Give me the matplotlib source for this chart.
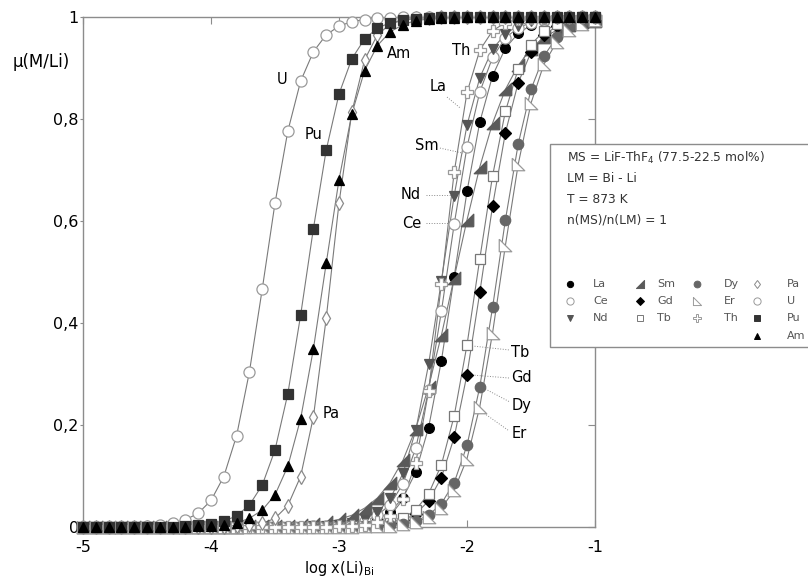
import numpy as np
import matplotlib
matplotlib.use("Agg")
import matplotlib.pyplot as plt
from matplotlib.lines import Line2D
from matplotlib.patches import Rectangle
from matplotlib.ticker import FuncFormatter

plt.rcParams['font.family'] = ['DejaVu Sans']

# log x(Li)_Bi sampling points
log_x = [-5.0, -4.9, -4.8, -4.7, -4.6, -4.5, -4.4, -4.3, -4.2, -4.1,
         -4.0, -3.9, -3.8, -3.7, -3.6, -3.5, -3.4, -3.3, -3.2, -3.1,
         -3.0, -2.9, -2.8, -2.7, -2.6, -2.5, -2.4, -2.3, -2.2, -2.1,
         -2.0, -1.9, -1.8, -1.7, -1.6, -1.5, -1.4, -1.3, -1.2, -1.1, -1.0]

# mu(M/Li) for each element
U = [0, 0, 0, 0, 0, 0.002, 0.003, 0.007, 0.014, 0.027,
     0.052, 0.099, 0.179, 0.304, 0.466, 0.635, 0.776, 0.874, 0.932, 0.965,
     0.982, 0.991, 0.995, 0.998, 0.999, 1, 1, 1, 1, 1,
     1, 1, 1, 1, 1, 1, 1, 1, 1, 1, 1]
Pu = [0, 0, 0, 0, 0, 0, 0, 0, 0.001, 0.003,
      0.006, 0.011, 0.022, 0.043, 0.082, 0.151, 0.261, 0.415, 0.585, 0.739,
      0.849, 0.918, 0.957, 0.978, 0.989, 0.994, 0.997, 0.999, 1, 1,
      1, 1, 1, 1, 1, 1, 1, 1, 1, 1, 1]
Am = [0, 0, 0, 0, 0, 0, 0, 0, 0, 0.001,
      0.002, 0.004, 0.008, 0.017, 0.033, 0.063, 0.119, 0.212, 0.349, 0.517,
      0.681, 0.810, 0.895, 0.944, 0.971, 0.985, 0.993, 0.996, 0.998, 0.999,
      1, 1, 1, 1, 1, 1, 1, 1, 1, 1, 1]
Pa = [0, 0, 0, 0, 0, 0, 0, 0, 0, 0,
      0, 0, 0.001, 0.003, 0.007, 0.017, 0.042, 0.099, 0.216, 0.409,
      0.635, 0.813, 0.916, 0.965, 0.986, 0.994, 0.998, 0.999, 1, 1,
      1, 1, 1, 1, 1, 1, 1, 1, 1, 1, 1]
Th = [0, 0, 0, 0, 0, 0, 0, 0, 0, 0,
      0, 0, 0, 0, 0, 0, 0, 0, 0, 0,
      0.001, 0.001, 0.004, 0.009, 0.022, 0.054, 0.126, 0.267, 0.477, 0.696,
      0.852, 0.935, 0.973, 0.989, 0.996, 0.998, 0.999, 1, 1, 1, 1]
La = [0, 0, 0, 0, 0, 0, 0, 0, 0, 0,
      0, 0, 0, 0, 0, 0, 0, 0, 0, 0.001,
      0.002, 0.004, 0.008, 0.015, 0.030, 0.057, 0.108, 0.195, 0.326, 0.491,
      0.658, 0.794, 0.885, 0.939, 0.968, 0.984, 0.992, 0.996, 0.998, 0.999, 1]
Ce = [0, 0, 0, 0, 0, 0, 0, 0, 0, 0,
      0, 0, 0, 0, 0, 0, 0, 0, 0.001, 0.002,
      0.003, 0.006, 0.011, 0.023, 0.044, 0.085, 0.155, 0.268, 0.423, 0.594,
      0.745, 0.853, 0.921, 0.959, 0.979, 0.989, 0.995, 0.997, 0.999, 1, 1]
Nd = [0, 0, 0, 0, 0, 0, 0, 0, 0, 0,
      0, 0, 0, 0, 0, 0, 0, 0, 0.001, 0.002,
      0.004, 0.007, 0.015, 0.029, 0.056, 0.105, 0.190, 0.319, 0.483, 0.650,
      0.788, 0.881, 0.937, 0.967, 0.983, 0.992, 0.996, 0.998, 0.999, 1, 1]
Sm = [0, 0, 0, 0, 0, 0, 0, 0, 0, 0,
      0, 0, 0, 0.001, 0.001, 0.002, 0.002, 0.004, 0.006, 0.009,
      0.015, 0.023, 0.037, 0.057, 0.087, 0.131, 0.193, 0.275, 0.376, 0.489,
      0.602, 0.706, 0.792, 0.858, 0.905, 0.938, 0.960, 0.974, 0.984, 0.990, 0.993]
Gd = [0, 0, 0, 0, 0, 0, 0, 0, 0, 0,
      0, 0, 0, 0, 0, 0, 0, 0, 0, 0,
      0, 0.001, 0.002, 0.003, 0.007, 0.013, 0.026, 0.051, 0.097, 0.176,
      0.299, 0.460, 0.630, 0.773, 0.871, 0.931, 0.964, 0.982, 0.991, 0.995, 0.998]
Tb = [0, 0, 0, 0, 0, 0, 0, 0, 0, 0,
      0, 0, 0, 0, 0, 0, 0, 0, 0, 0,
      0, 0.001, 0.002, 0.004, 0.009, 0.017, 0.034, 0.065, 0.122, 0.218,
      0.357, 0.526, 0.689, 0.815, 0.898, 0.946, 0.972, 0.986, 0.993, 0.996, 0.998]
Dy = [0, 0, 0, 0, 0, 0, 0, 0, 0, 0,
      0, 0, 0, 0, 0, 0, 0, 0, 0, 0,
      0, 0, 0.001, 0.002, 0.003, 0.006, 0.012, 0.023, 0.046, 0.087,
      0.160, 0.275, 0.431, 0.602, 0.751, 0.858, 0.923, 0.960, 0.980, 0.990, 0.995]
Er = [0, 0, 0, 0, 0, 0, 0, 0, 0, 0,
      0, 0, 0, 0, 0, 0, 0, 0, 0, 0,
      0, 0, 0.001, 0.001, 0.002, 0.005, 0.010, 0.019, 0.037, 0.072,
      0.134, 0.236, 0.381, 0.552, 0.711, 0.831, 0.907, 0.951, 0.975, 0.987, 0.994]

x_ticks = [-5, -4, -3, -2, -1]
y_ticks = [0, 0.2, 0.4, 0.6, 0.8, 1]

# right-angle triangle markers
tri_sm = [(1, -1), (1, 1), (-1, -1), (1, -1)]
tri_er = [(-1, 1), (-1, -1), (1, -1), (-1, 1)]

# name: (data, marker, face, edge, size)
styles = {
    'La': (La, 'o', 'black', 'black', 7),
    'Ce': (Ce, 'o', 'white', '#9a9a9a', 8),
    'Nd': (Nd, 'v', '#555555', '#555555', 7),
    'Sm': (Sm, tri_sm, '#5a5a5a', '#5a5a5a', 9),
    'Gd': (Gd, 'D', 'black', 'black', 6.5),
    'Tb': (Tb, 's', 'white', '#777777', 7.5),
    'Dy': (Dy, 'o', '#666666', '#666666', 7.5),
    'Er': (Er, tri_er, 'white', '#9a9a9a', 9),
    'Th': (Th, 'P', 'white', '#9a9a9a', 9),
    'Pa': (Pa, 'd', 'white', '#8a8a8a', 7),
    'U': (U, 'o', 'white', '#9a9a9a', 8),
    'Pu': (Pu, 's', '#333333', '#333333', 7.5),
    'Am': (Am, '^', 'black', 'black', 7),
}

W, H = 808, 586
fig = plt.figure(figsize=(W / 100, H / 100), dpi=100)
ax = fig.add_axes([83 / W, 1 - 527 / H, 512 / W, 510 / H])

def px(x, y):
    # pixel position -> figure fraction
    return x / W, 1 - y / H

for name, (vals, mk, fc, ec, ms) in styles.items():
    ax.plot(log_x, vals, color='#7a7a7a', lw=0.8, zorder=2)
for name, (vals, mk, fc, ec, ms) in styles.items():
    ax.plot(log_x, vals, linestyle='none', marker=mk, markerfacecolor=fc,
            markeredgecolor=ec, markersize=ms, markeredgewidth=0.9,
            clip_on=False, zorder=3)

ax.set_xlim(-5, -1)
ax.set_ylim(0, 1)
ax.set_xticks(x_ticks)
ax.set_yticks(y_ticks)
ax.yaxis.set_major_formatter(FuncFormatter(lambda v, p: ('%g' % v).replace('.', ',')))
ax.xaxis.set_major_formatter(FuncFormatter(lambda v, p: '%d' % v))
for s in ax.spines.values():
    s.set_color('#8c8c8c')
    s.set_linewidth(1)
ax.tick_params(axis='both', colors='#8c8c8c', labelcolor='black', labelsize=11.5)
ax.tick_params(axis='x', direction='in', top=True, length=5, pad=9)
ax.tick_params(axis='y', direction='out', length=2, pad=1)
ax.tick_params(axis='y', which='major', right=True)
ax.yaxis.set_tick_params(which='major', direction='out')
for t in ax.yaxis.get_major_ticks():
    t.tick2line.set_marker(0)  # right-side ticks point inward
    t.tick2line.set_markersize(5)
ax.set_xlabel('log x(Li)$_{\\mathregular{Bi}}$', fontsize=10.5, labelpad=3)
fig.text(*px(41, 62), '\u03bc(M/Li)', fontsize=12, ha='center', va='center')

# element labels with dotted leaders
labels = [
    ('U', -3.445, 0.878, None), ('Pu', -3.20, 0.769, None),
    ('Am', -2.535, 0.929, None), ('Th', -2.047, 0.935, None),
    ('Pa', -3.06, 0.223, None),
    ('La', -2.227, 0.863, (-2.156, 0.843, -2.055, 0.822)),
    ('Sm', -2.312, 0.749, (-2.211, 0.743, -2.031, 0.733)),
    ('Nd', -2.44, 0.651, (-2.32, 0.651, -2.11, 0.651)),
    ('Ce', -2.43, 0.596, (-2.32, 0.596, -2.11, 0.596)),
    ('Tb', -1.586, 0.343, (-1.961, 0.355, -1.664, 0.347)),
    ('Gd', -1.578, 0.294, (-1.961, 0.298, -1.664, 0.292)),
    ('Dy', -1.57, 0.239, (-1.875, 0.273, -1.664, 0.245)),
    ('Er', -1.594, 0.184, (-1.883, 0.226, -1.68, 0.190)),
]
for txt, tx, ty, lead in labels:
    ax.text(tx, ty, txt, fontsize=10.5, ha='center', va='center', zorder=6)
    if lead is not None:
        ax.plot([lead[0], lead[2]], [lead[1], lead[3]], color='#8a8a8a',
                lw=0.7, ls=':', zorder=1)

# info box
x0, y0 = px(550, 144)
x1, y1 = px(830, 347)
fig.patches.append(Rectangle((x0, y1), x1 - x0, y0 - y1, transform=fig.transFigure,
                             facecolor='white', edgecolor='#8c8c8c', lw=1, zorder=5))
info = ['MS = LiF-ThF$_\\mathregular{4}$ (77.5-22.5 mol%)', 'LM = Bi - Li',
        'T = 873 K', 'n(MS)/n(LM) = 1']
for i, line in enumerate(info):
    fig.text(*px(567, 158 + 20.7 * i), line, fontsize=8.8, ha='left', va='center',
             color='#333333', zorder=6)

# legend grid inside the box
legend_cols = [['La', 'Ce', 'Nd'], ['Sm', 'Gd', 'Tb'], ['Dy', 'Er', 'Th'],
               ['Pa', 'U', 'Pu', 'Am']]
marker_px = [570, 640, 697, 757]
text_px = [593, 657, 724, 787]
row_px = [284, 301, 318, 336]
for c, col in enumerate(legend_cols):
    for r, name in enumerate(col):
        vals, mk, fc, ec, ms = styles[name]
        mx, my = px(marker_px[c], row_px[r])
        fig.add_artist(Line2D([mx], [my], transform=fig.transFigure, linestyle='none',
                              marker=mk, markerfacecolor=fc, markeredgecolor=ec,
                              markersize=ms * 0.65, markeredgewidth=0.7, zorder=7))
        fig.text(*px(text_px[c], row_px[r]), name, fontsize=8, color='#555555',
                 ha='left', va='center', zorder=7)

fig.savefig('out.png', dpi=100)
